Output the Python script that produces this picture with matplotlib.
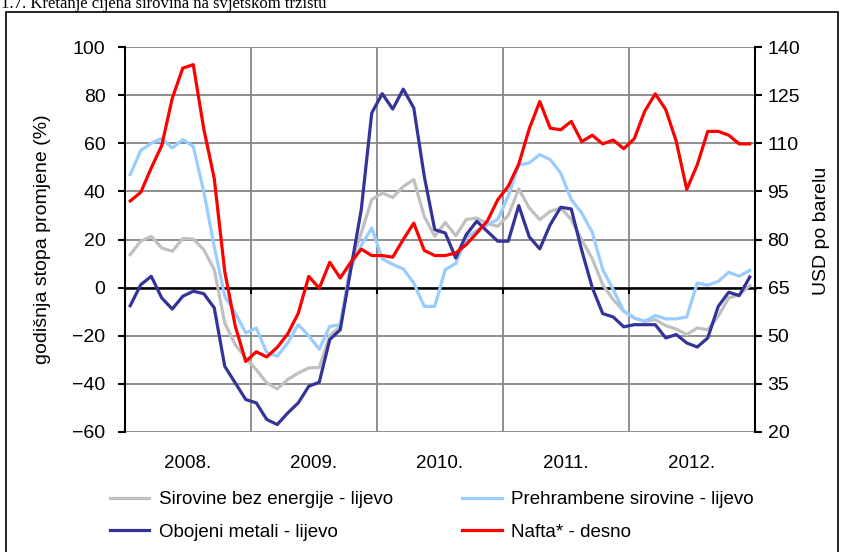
import matplotlib
matplotlib.use("Agg")
import matplotlib.pyplot as plt
from matplotlib.patches import Rectangle
from matplotlib.transforms import blended_transform_factory
import numpy as np

plt.rcParams['font.family'] = ['Liberation Sans', 'DejaVu Sans']

years = ["2008.", "2009.", "2010.", "2011.", "2012."]

# godisnja stopa promjene (%), mjesecno sij. 2008. - pro. 2012.
sirovine = [13.7, 19.3, 21.3, 16.5, 15.1, 20.4, 20.2, 15.8, 7.5, -14.7, -23.7, -29.2,
            -34.1, -39.6, -42.1, -38.2, -35.5, -33.4, -33.2, -20.0, -16.1, 10.0, 22.7, 36.6,
            39.3, 37.5, 42.0, 44.9, 29.6, 21.3, 27.1, 21.6, 28.3, 28.9, 26.6, 25.5,
            30.0, 41.0, 33.1, 28.3, 31.7, 33.1, 28.3, 19.9, 12.0, 1.2, -5.0, -9.8,
            -12.6, -14.0, -13.3, -15.8, -17.2, -19.5, -16.8, -17.5, -11.9, -4.3, -2.9, 0.8]
prehrambene = [47.0, 57.0, 60.0, 62.0, 58.0, 61.5, 58.7, 40.0, 17.0, -3.6, -10.5, -18.8,
               -16.8, -27.0, -28.5, -23.0, -15.4, -20.0, -25.6, -16.1, -15.4, 8.0, 17.5, 24.8,
               12.0, 9.6, 7.8, 1.9, -7.8, -7.8, 7.5, 10.0, 20.6, 23.8, 26.2, 28.3,
               38.0, 51.0, 51.8, 55.3, 53.2, 47.6, 36.6, 31.0, 23.0, 7.5, -0.8, -9.8,
               -12.6, -14.0, -11.6, -13.0, -13.0, -12.2, 1.9, 1.0, 2.6, 6.4, 4.7, 7.2]
obojeni = [-7.5, 1.2, 4.7, -4.3, -8.9, -3.6, -1.5, -2.5, -8.4, -32.7, -39.6, -46.5,
           -47.9, -54.8, -56.9, -52.1, -47.9, -41.0, -39.3, -21.6, -17.5, 7.5, 32.4, 72.6,
           80.6, 74.2, 82.5, 74.7, 46.3, 24.1, 22.7, 12.3, 22.0, 27.6, 23.4, 19.3,
           19.3, 34.1, 21.1, 16.1, 26.2, 33.4, 32.7, 15.5, 0.0, -10.8, -12.2, -16.3,
           -15.4, -15.4, -15.4, -20.9, -19.5, -23.0, -24.7, -20.9, -7.8, -1.9, -3.3, 4.4]
# USD po barelu
nafta = [92.0, 94.7, 102.3, 109.3, 124.0, 133.4, 134.5, 114.5, 99.0, 70.0, 53.0, 42.0,
         45.0, 43.4, 46.4, 50.6, 57.0, 68.5, 64.8, 72.9, 68.0, 72.9, 77.0, 75.0,
         75.0, 74.5, 80.0, 85.1, 76.6, 75.0, 75.0, 75.8, 78.4, 82.0, 85.7, 92.4,
         96.6, 103.5, 114.5, 123.0, 114.7, 114.2, 116.8, 110.5, 112.5, 109.8, 111.0, 108.3,
         111.4, 120.0, 125.4, 120.5, 110.6, 95.6, 103.3, 113.7, 113.7, 112.5, 109.8, 109.8]

W, H = 844, 552
fig = plt.figure(figsize=(W / 100, H / 100), dpi=100)

# okvir i naslov (naslov je u originalu odrezan pri vrhu)
fig.patches.append(Rectangle((6 / W, -0.05), 832 / W, 1.05 - 12 / H, transform=fig.transFigure,
                             fill=False, edgecolor='black', lw=1.2))
fig.text(1 / W, 1 - 7.5 / H, "1.7. Kretanje cijena sirovina na svjetskom tržištu",
         family=['Liberation Serif', 'DejaVu Serif'], fontsize=12, ha='left', va='baseline')

ax = fig.add_axes([125 / W, 1 - 432 / H, 630 / W, 385 / H])
ax2 = ax.twinx()

months = np.arange(len(nafta)) + 0.5
l1, = ax.plot(months, sirovine, color='#C0C0C0', lw=2.3)
l2, = ax.plot(months, prehrambene, color='#99CCFF', lw=2.3)
l3, = ax.plot(months, obojeni, color='#333399', lw=2.3)
l4, = ax2.plot(months, nafta, color='#FF0000', lw=2.3)

ax.set_xlim(0, 60)
ax.set_ylim(-60, 100)
ax.set_yticks(range(-60, 101, 20))
ax.set_xticks(range(0, 61, 12))
ax.set_xticklabels([])
ax2.set_ylim(20, 140)
ax2.set_yticks(range(20, 141, 15))

ax.grid(True, color='#868686', lw=1.3)
ax.set_axisbelow(True)

ax.spines['bottom'].set_position(('data', 0))
ax.spines['bottom'].set_linewidth(1.8)
ax.spines['bottom'].set_zorder(1.5)
ax.spines['top'].set_visible(False)
ax.spines['right'].set_visible(False)
ax.spines['left'].set_linewidth(1.5)
for s in ['top', 'bottom', 'left']:
    ax2.spines[s].set_visible(False)
ax2.spines['right'].set_linewidth(1.5)

ax.tick_params(axis='x', direction='out', length=4, width=1.5, color='black')
ax.tick_params(axis='y', direction='out', length=5, width=1.5, labelsize=14, pad=9)
ax2.tick_params(axis='y', direction='out', length=5, width=1.5, labelsize=14, pad=4)

trans = blended_transform_factory(ax.transData, ax.transAxes)
for k, y in enumerate(years):
    ax.text(12 * k + 6, -31 / 385, y, transform=trans, ha='center', va='center', fontsize=13.5)

fig.text(43 / W, 1 - 239 / H, "godišnja stopa promjene (%)", rotation=90,
         ha='center', va='center', fontsize=14)
fig.text(822 / W, 1 - 231 / H, "USD po barelu", rotation=90,
         ha='center', va='center', fontsize=14)

fig.legend([l1, l3, l2, l4],
           ["Sirovine bez energije - lijevo", "Obojeni metali - lijevo",
            "Prehrambene sirovine - lijevo", "Nafta* - desno"],
           loc='upper left', bbox_to_anchor=(110 / W, 1 - 491 / H), ncol=2, frameon=False,
           fontsize=13.5, handlelength=2.1, handletextpad=0.5, columnspacing=3.7,
           labelspacing=0.82, borderpad=0, borderaxespad=0)

fig.savefig("out.png", dpi=100)
